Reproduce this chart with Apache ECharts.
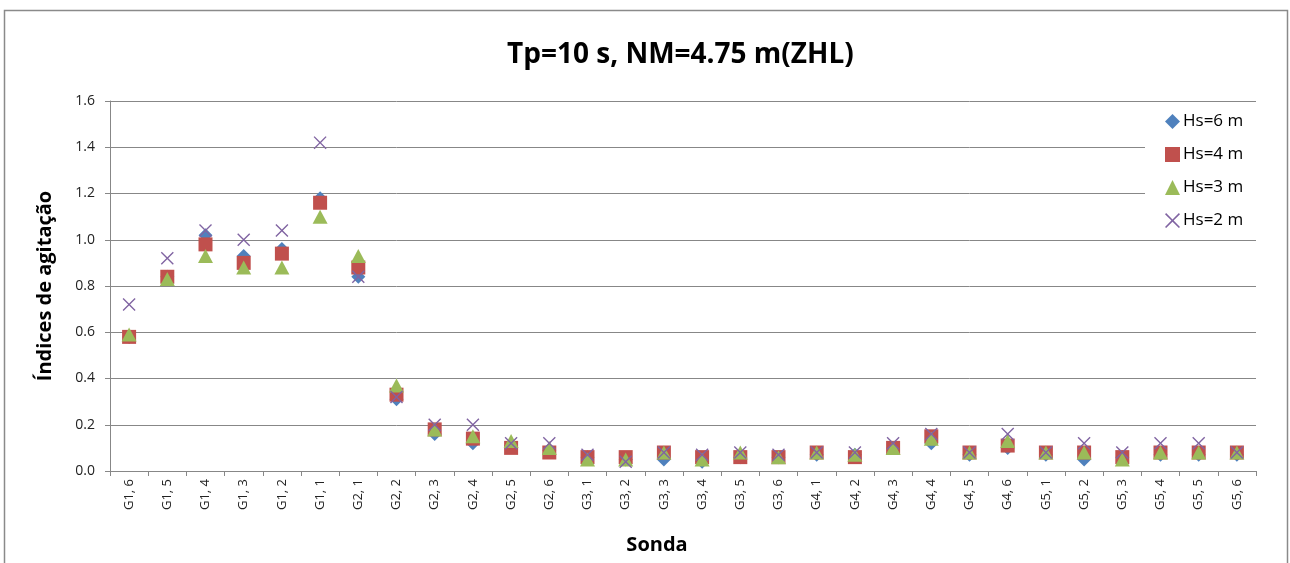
<!DOCTYPE html>
<html>
<head>
<meta charset="utf-8">
<script src="https://cdn.jsdelivr.net/npm/echarts@6/dist/echarts.min.js"></script>
<style>
  html, body { margin: 0; padding: 0; background: #fff; }
  #chart { width: 1290px; height: 563px; }
</style>
</head>
<body>
<div id="chart"></div>
<script>
// Probe positions along the breakwater sections
const categories = [
  'G1, 6', 'G1, 5', 'G1, 4', 'G1, 3', 'G1, 2', 'G1, 1',
  'G2, 1', 'G2, 2', 'G2, 3', 'G2, 4', 'G2, 5', 'G2, 6',
  'G3, 1', 'G3, 2', 'G3, 3', 'G3, 4', 'G3, 5', 'G3, 6',
  'G4, 1', 'G4, 2', 'G4, 3', 'G4, 4', 'G4, 5', 'G4, 6',
  'G5, 1', 'G5, 2', 'G5, 3', 'G5, 4', 'G5, 5', 'G5, 6'
];

// Agitation indices per significant wave height
const hs6 = [0.58, 0.84, 1.02, 0.93, 0.96, 1.18, 0.84, 0.31, 0.16, 0.12, 0.11, 0.09,
             0.06, 0.05, 0.05, 0.04, 0.06, 0.06, 0.07, 0.07, 0.10, 0.12, 0.07, 0.10,
             0.07, 0.05, 0.06, 0.07, 0.07, 0.07];
const hs4 = [0.58, 0.84, 0.98, 0.90, 0.94, 1.16, 0.88, 0.33, 0.18, 0.14, 0.10, 0.08,
             0.06, 0.06, 0.08, 0.06, 0.06, 0.06, 0.08, 0.06, 0.10, 0.15, 0.08, 0.11,
             0.08, 0.08, 0.06, 0.08, 0.08, 0.08];
const hs3 = [0.59, 0.83, 0.93, 0.88, 0.88, 1.10, 0.93, 0.37, 0.18, 0.15, 0.13, 0.10,
             0.05, 0.05, 0.08, 0.05, 0.08, 0.06, 0.08, 0.07, 0.10, 0.14, 0.08, 0.13,
             0.08, 0.08, 0.05, 0.08, 0.08, 0.08];
const hs2 = [0.72, 0.92, 1.04, 1.00, 1.04, 1.42, 0.84, 0.32, 0.20, 0.20, 0.12, 0.12,
             0.07, 0.04, 0.08, 0.07, 0.08, 0.07, 0.08, 0.08, 0.12, 0.16, 0.08, 0.16,
             0.08, 0.12, 0.08, 0.12, 0.12, 0.08];

const yTicks = { min: 0, max: 1.6, interval: 0.2 };

// Thin diagonal cross drawn as a filled outline
const crossPath = 'path://M0,1.5L1.5,0L10,8.5L18.5,0L20,1.5L11.5,10L20,18.5L18.5,20L10,11.5L1.5,20L0,18.5L8.5,10Z';

const font = '"Open Sans", "Noto Sans", sans-serif';
const gridColor = '#878787';

const chart = echarts.init(document.getElementById('chart'), null, { renderer: 'canvas' });

chart.setOption({
  backgroundColor: '#fff',
  animation: false,
  graphic: [{
    type: 'rect',
    shape: { x: 4.5, y: 10.5, width: 1283, height: 600 },
    style: { fill: 'none', stroke: '#8a8a8a', lineWidth: 1.5 },
    z: 100
  }],
  title: {
    text: 'Tp=10 s, NM=4.75 m(ZHL)',
    left: 502,
    top: 36,
    textStyle: { fontFamily: font, fontWeight: 'bold', fontSize: 28, color: '#000' }
  },
  grid: { left: 110, right: 34, top: 101, bottom: 92, containLabel: false },
  legend: {
    orient: 'vertical',
    left: 1145,
    top: 107,
    padding: [6, 20, 6, 20],
    itemGap: 16,
    itemWidth: 15,
    itemHeight: 15,
    backgroundColor: '#fff',
    textStyle: { fontFamily: font, fontSize: 17, color: '#000', padding: [0, 0, 0, -2] },
    data: ['Hs=6 m', 'Hs=4 m', 'Hs=3 m', 'Hs=2 m'],
    z: 10
  },
  xAxis: {
    type: 'category',
    data: categories,
    boundaryGap: true,
    name: 'Sonda',
    nameLocation: 'middle',
    nameGap: 64,
    nameTextStyle: { fontFamily: font, fontWeight: 'bold', fontSize: 20, color: '#000',
                     padding: [0, 52, 0, 0] },
    axisLine: { lineStyle: { color: gridColor, width: 1 } },
    axisTick: { show: true, alignWithLabel: false, length: 5, lineStyle: { color: gridColor } },
    axisLabel: { rotate: 90, fontFamily: font, fontSize: 13, color: '#222', margin: 8, interval: 0 },
    splitLine: { show: false }
  },
  yAxis: {
    type: 'value',
    min: yTicks.min,
    max: yTicks.max,
    interval: yTicks.interval,
    name: 'Índices de agitação',
    nameLocation: 'middle',
    nameGap: 55,
    nameTextStyle: { fontFamily: font, fontWeight: 'bold', fontSize: 20, color: '#000' },
    axisLine: { show: true, lineStyle: { color: gridColor, width: 1 } },
    axisTick: { show: true, inside: false, length: 5, lineStyle: { color: gridColor } },
    axisLabel: { fontFamily: font, fontSize: 14, color: '#222', margin: 15,
                 formatter: v => v.toFixed(1) },
    splitLine: { lineStyle: { color: gridColor, width: 1 } }
  },
  series: [
    { name: 'Hs=6 m', type: 'scatter', data: hs6, symbol: 'diamond', symbolSize: [14, 14],
      itemStyle: { color: '#4F81BD', opacity: 1 }, z: 2 },
    { name: 'Hs=4 m', type: 'scatter', data: hs4, symbol: 'rect', symbolSize: 14,
      itemStyle: { color: '#C0504D', opacity: 1 }, z: 3 },
    { name: 'Hs=3 m', type: 'scatter', data: hs3, symbol: 'triangle', symbolSize: [15, 14],
      itemStyle: { color: '#9BBB59', opacity: 1 }, z: 4 },
    { name: 'Hs=2 m', type: 'scatter', data: hs2, symbol: crossPath, symbolSize: 13,
      itemStyle: { color: '#8064A2', opacity: 1 }, z: 5 }
  ]
});
</script>
</body>
</html>
